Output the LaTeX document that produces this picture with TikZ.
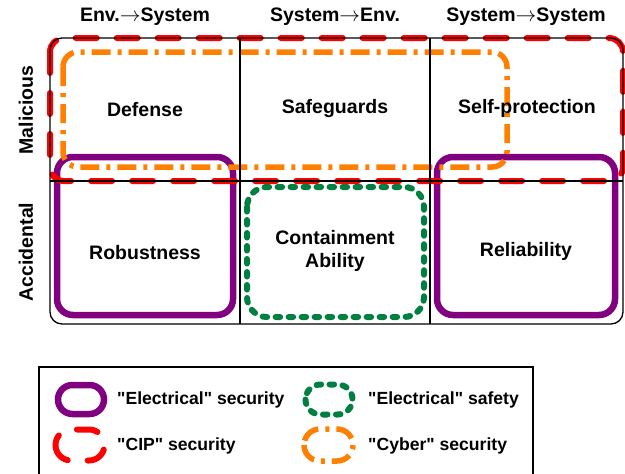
\documentclass[tikz,border=0pt]{standalone}
\usepackage{fontspec}
\setmainfont{Liberation Sans}
\newcommand{\straightq}[1]{\textquotedbl#1\textquotedbl}
\newcommand{\toarrow}{\ensuremath{\rightarrow}}
\begin{document}
\begin{tikzpicture}[x=1pt,y=-1pt,
  lbl/.style={font=\fontsize{19.5}{23}\selectfont\bfseries, inner sep=0pt, align=center},
  leglbl/.style={font=\fontsize{17.6}{21}\selectfont\bfseries, inner sep=0pt, anchor=west},
  grid/.style={draw=black, line width=1.3pt},
  elsec/.style={color={rgb,255:red,128;green,0;blue,128}, line width=6.5pt},
  elsafe/.style={color={rgb,255:red,0;green,128;blue,64}, line width=6pt, line cap=round,
    dash pattern=on 4.5pt off 8.5pt},
  cipsec/.style={color={rgb,255:red,255;green,0;blue,0}, line width=6pt, line cap=round,
    dash pattern=on 21pt off 20pt},
  cybsec/.style={color={rgb,255:red,255;green,128;blue,0}, line width=5.5pt,
    dash pattern=on 19pt off 7pt on 4pt off 7pt}]
\useasboundingbox (0,0) rectangle (625,474);

% security / safety regions
\draw[elsec, rounded corners=16pt] (57,157) rectangle (233,315);
\draw[elsec, rounded corners=16pt] (437,157) rectangle (615,315);
\draw[elsafe, rounded corners=20pt] (247,187) rectangle (424,317);
\draw[cipsec, rounded corners=14pt] (50,38) rectangle (623,181);
\draw[cybsec, rounded corners=15pt] (63,52) rectangle (507,167);

% matrix grid
\draw[grid, rounded corners=12pt] (50,38) rectangle (623,324);
\draw[grid] (240,38) -- (240,324);
\draw[grid] (430,38) -- (430,324);
\draw[grid] (50,181) -- (623,181);

% column and row headings
\node[lbl] (h1) at (145,17) {Env.\toarrow System};
\node[lbl] (h2) at (335,17) {System\toarrow Env.};
\node[lbl] (h3) at (526,17) {System\toarrow System};
\node[lbl, rotate=90] (r1) at (26,110) {Malicious};
\node[lbl, rotate=90] (r2) at (26,252) {Accidental};

% cell labels
\node[lbl] (c11) at (145,110) {Defense};
\node[lbl] (c12) at (335,109) {Safeguards};
\node[lbl] (c13) at (527,108) {Self-protection};
\node[lbl] (c21) at (145,253) {Robustness};
\node[lbl] (c22) at (335,251) {Containment\\Ability};
\node[lbl] (c23) at (526,251) {Reliability};

% legend
\draw[grid] (39,367) rectangle (533,480);
\draw[elsec, rounded corners=14.5pt] (58,385) rectangle (104,414);
\draw[elsafe, rounded corners=15pt] (305.5,384.5) rectangle (352.5,414.5);
\draw[cipsec, rounded corners=15.5pt] (55.5,429.5) rectangle (104.5,460.5);
\draw[cybsec, rounded corners=16pt] (304,429) rectangle (353,461);
\node[leglbl] (l1) at (117,400) {\straightq{Electrical} security};
\node[leglbl] (l2) at (368,400) {\straightq{Electrical} safety};
\node[leglbl] (l3) at (117,446) {\straightq{CIP} security};
\node[leglbl] (l4) at (368,446) {\straightq{Cyber} security};
\end{tikzpicture}
\end{document}
